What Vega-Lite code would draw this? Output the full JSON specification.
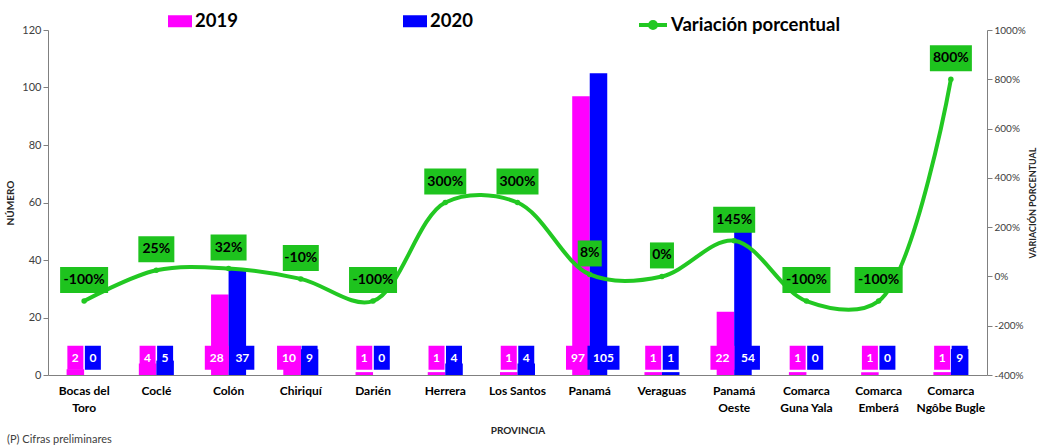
{
  "$schema": "https://vega.github.io/schema/vega-lite/v6.json",
  "width": 939,
  "height": 345,
  "autosize": {"type": "none"},
  "padding": {"left": 48, "top": 30, "right": 52, "bottom": 70},
  "background": "white",
  "config": {
    "font": "Lato",
    "view": {"stroke": null},
    "locale": {"number": {"decimal": ".", "thousands": ",", "grouping": [3], "currency": ["$", ""], "minus": "-"}},
    "axis": {"domainColor": "#808080", "tickColor": "#808080", "labelColor": "#404040", "grid": false}
  },
  "title": {
    "text": "(P) Cifras preliminares",
    "orient": "bottom",
    "anchor": "start",
    "frame": "group",
    "dx": -41,
    "offset": -1,
    "fontSize": 11,
    "fontWeight": "normal",
    "color": "#404040"
  },
  "datasets": {
    "d": [
      {"provincia": "Bocas del Toro", "2019": 2, "2020": 0, "variacion": -1},
      {"provincia": "Coclé", "2019": 4, "2020": 5, "variacion": 0.25},
      {"provincia": "Colón", "2019": 28, "2020": 37, "variacion": 0.32},
      {"provincia": "Chiriquí", "2019": 10, "2020": 9, "variacion": -0.1},
      {"provincia": "Darién", "2019": 1, "2020": 0, "variacion": -1},
      {"provincia": "Herrera", "2019": 1, "2020": 4, "variacion": 3},
      {"provincia": "Los Santos", "2019": 1, "2020": 4, "variacion": 3},
      {"provincia": "Panamá", "2019": 97, "2020": 105, "variacion": 0.08},
      {"provincia": "Veraguas", "2019": 1, "2020": 1, "variacion": 0},
      {"provincia": "Panamá Oeste", "2019": 22, "2020": 54, "variacion": 1.45},
      {"provincia": "Comarca Guna Yala", "2019": 1, "2020": 0, "variacion": -1},
      {"provincia": "Comarca Emberá", "2019": 1, "2020": 0, "variacion": -1},
      {"provincia": "Comarca Ngôbe Bugle", "2019": 1, "2020": 9, "variacion": 8}
    ]
  },
  "data": {"name": "d"},
  "layer": [
    {
      "transform": [{"fold": ["2019", "2020"], "as": ["anio", "valor"]}],
      "encoding": {
        "x": {
          "field": "provincia",
          "type": "nominal",
          "sort": null,
          "scale": {"paddingInner": 0.515, "paddingOuter": 0.2575},
          "axis": {
            "title": "PROVINCIA",
            "titleFontSize": 10,
            "titleFontWeight": "bold",
            "titleColor": "#262626",
            "titlePadding": 12,
            "labelAngle": 0,
            "labelFontSize": 12,
            "labelFontWeight": "bold",
            "labelColor": "#000000",
            "labelPadding": 10,
            "labelLineHeight": 17,
            "ticks": false,
            "labelExpr": "indexof(datum.value, 'Comarca ') == 0 ? ['Comarca', substring(datum.value, 8)] : datum.value == 'Bocas del Toro' ? ['Bocas del', 'Toro'] : datum.value == 'Panamá Oeste' ? ['Panamá', 'Oeste'] : datum.value"
          }
        },
        "xOffset": {"field": "anio", "type": "nominal", "scale": {"domain": ["2019", "2020"], "paddingInner": 0, "paddingOuter": 0}}
      },
      "layer": [
        {
          "mark": {"type": "bar"},
          "encoding": {
            "y": {
              "field": "valor",
              "type": "quantitative",
              "scale": {"domain": [0, 120]},
              "axis": {
                "title": "NÚMERO",
                "titleFontSize": 10,
                "titleFontWeight": "bold",
                "titleColor": "#262626",
                "titlePadding": 6,
                "values": [0, 20, 40, 60, 80, 100, 120],
                "labelFontSize": 11,
                "tickSize": 5
              }
            },
            "fill": {
              "field": "anio",
              "type": "nominal",
              "scale": {"domain": ["2019", "2020"], "range": ["#FF00FF", "#0000FF"]},
              "legend": {
                "title": null,
                "orient": "none",
                "legendX": 120,
                "legendY": -21,
                "direction": "horizontal",
                "columnPadding": 165,
                "labelFontSize": 18.5,
                "labelFontWeight": "bold",
                "labelColor": "#000000",
                "labelOffset": 3,
                "labelLimit": 300,
                "symbolType": "M-1,-0.5L1,-0.5L1,0.5L-1,0.5Z",
                "symbolSize": 576,
                "symbolStrokeWidth": 0
              }
            }
          }
        },
        {
          "mark": {"type": "point", "filled": true, "opacity": 1, "size": 4},
          "encoding": {
            "y": {"datum": 6},
            "fill": {"field": "anio", "type": "nominal", "legend": null},
            "shape": {
              "condition": [
                {"test": "datum.anio == '2020' && datum.valor >= 100", "value": "M-11,-12L21,-12L21,12L-11,12Z"},
                {"test": "datum.anio == '2020' && datum.valor >= 10", "value": "M-7,-12L17,-12L17,12L-7,12Z"},
                {"test": "datum.anio == '2019' && datum.valor >= 10", "value": "M-15,-12L9,-12L9,12L-15,12Z"}
              ],
              "value": "M-8,-12L8,-12L8,12L-8,12Z"
            }
          }
        },
        {
          "transform": [{"filter": "datum.valor < 10"}],
          "mark": {"type": "text", "color": "white", "fontWeight": "bold", "fontSize": 12, "baseline": "middle"},
          "encoding": {
            "y": {"datum": 6},
            "text": {"field": "valor", "type": "quantitative", "format": "d"}
          }
        },
        {
          "transform": [{"filter": "datum.valor >= 10 && datum.anio == '2019'"}],
          "mark": {"type": "text", "color": "white", "fontWeight": "bold", "fontSize": 12, "baseline": "middle", "dx": -3},
          "encoding": {
            "y": {"datum": 6},
            "text": {"field": "valor", "type": "quantitative", "format": "d"}
          }
        },
        {
          "transform": [{"filter": "datum.valor >= 10 && datum.anio == '2020'"}],
          "mark": {"type": "text", "color": "white", "fontWeight": "bold", "fontSize": 12, "baseline": "middle", "dx": 5},
          "encoding": {
            "y": {"datum": 6},
            "text": {"field": "valor", "type": "quantitative", "format": "d"}
          }
        }
      ]
    },
    {
      "encoding": {
        "x": {"field": "provincia", "type": "nominal", "sort": null}
      },
      "layer": [
        {
          "mark": {"type": "line", "interpolate": "catmull-rom", "strokeWidth": 4, "strokeCap": "round"},
          "encoding": {
            "y": {
              "field": "variacion",
              "type": "quantitative",
              "scale": {"domain": [-4, 10]},
              "axis": {
                "orient": "right",
                "title": "VARIACIÓN PORCENTUAL",
                "titleAngle": 270,
                "titleFontSize": 9,
                "titleFontWeight": "bold",
                "titleColor": "#262626",
                "titlePadding": 12,
                "values": [-4, -2, 0, 2, 4, 6, 8, 10],
                "format": ".0%",
                "labelFontSize": 10,
                "tickSize": 5
              }
            },
            "stroke": {
              "datum": "Variación porcentual",
              "type": "nominal",
              "scale": {"domain": ["Variación porcentual"], "range": ["#22C822"]},
              "legend": {
                "title": null,
                "orient": "none",
                "legendX": 589,
                "legendY": -21,
                "labelFontSize": 18.5,
                "labelFontWeight": "bold",
                "labelColor": "#000000",
                "labelOffset": 2,
                "labelLimit": 400,
                "symbolType": "M-1,0L1,0M0.22,0A0.22,0.22 0 1,1 -0.22,0A0.22,0.22 0 1,1 0.22,0",
                "symbolSize": 784,
                "symbolStrokeWidth": 4,
                "symbolFillColor": "#22C822"
              }
            }
          }
        },
        {
          "mark": {"type": "point", "filled": true, "size": 30, "color": "#22C822", "opacity": 1},
          "encoding": {
            "y": {"field": "variacion", "type": "quantitative"}
          }
        },
        {
          "mark": {"type": "point", "filled": true, "size": 4, "color": "#1EC31E", "opacity": 1, "yOffset": -21},
          "encoding": {
            "y": {"field": "variacion", "type": "quantitative"},
            "shape": {
              "condition": [
                {"test": "datum.variacion <= -1", "value": "M-24,-13L24,-13L24,13L-24,13Z"},
                {"test": "datum.variacion >= 1", "value": "M-21,-13L21,-13L21,13L-21,13Z"},
                {"test": "datum.variacion < 0", "value": "M-18,-13L18,-13L18,13L-18,13Z"},
                {"test": "datum.variacion >= 0.1", "value": "M-18,-13L18,-13L18,13L-18,13Z"}
              ],
              "value": "M-12,-13L12,-13L12,13L-12,13Z"
            }
          }
        },
        {
          "mark": {"type": "text", "color": "#000000", "fontWeight": "bold", "fontSize": 14, "baseline": "middle", "yOffset": -21},
          "encoding": {
            "y": {"field": "variacion", "type": "quantitative"},
            "text": {"field": "variacion", "type": "quantitative", "format": ".0%"}
          }
        }
      ]
    }
  ],
  "resolve": {"scale": {"y": "independent", "fill": "independent", "shape": "independent"}}
}
